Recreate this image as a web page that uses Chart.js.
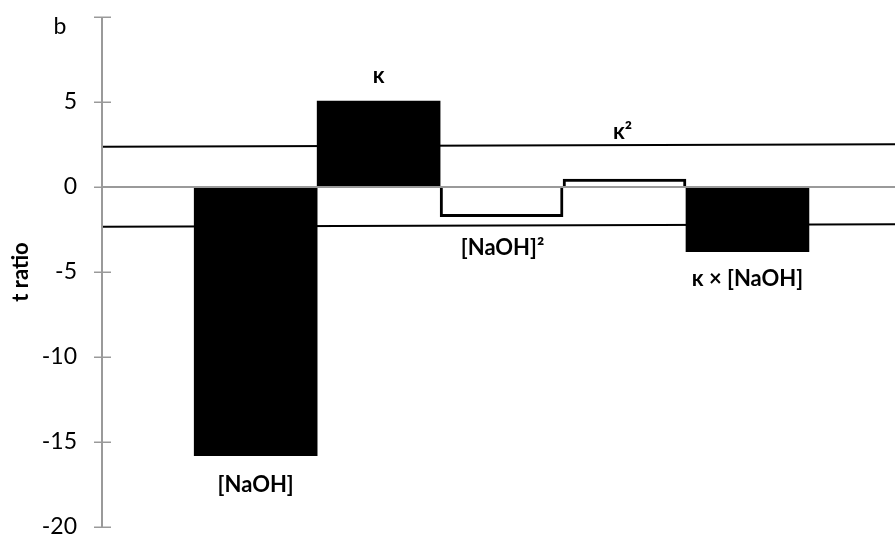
<!DOCTYPE html>
<html>
<head>
<meta charset="utf-8">
<script src="https://cdn.jsdelivr.net/npm/chart.js@4/dist/chart.umd.min.js"></script>
<style>
  html, body { margin: 0; padding: 0; background: #fff; }
  #wrap { width: 895px; height: 535px; position: relative; }
</style>
</head>
<body>
<div id="wrap"><canvas id="c"></canvas></div>
<script>
// Model terms and their t ratios
const terms = ['[NaOH]', 'κ', '[NaOH]²', 'κ²', 'κ × [NaOH]'];
const tRatios = [-15.8, 5.05, -1.75, 0.47, -3.8];
const hollowTerms = [false, false, true, true, false];

// Critical t values (left end, right end)
const upperCritical = [2.37, 2.51];
const lowerCritical = [-2.34, -2.19];

// Y axis ticks
const yTickValues = [10, 5, 0, -5, -10, -15, -20];
const yTickLabels = ['', '5', '0', '-5', '-10', '-15', '-20'];

const panelLabel = 'b';
const yTitle = 't ratio';

// Horizontal extent of the term axis (terms sit at 1..n)
const X_MIN = -0.25;
const X_MAX = 6.2;

// Label nudges per term: [dx, dy] from the bar's outer end
const labelNudges = [[0, 29], [0, -25], [1, 31], [-2, -47], [0, 27]];

const AXIS_GREY = '#9a9a9a';
const FONT = 'Lato';

const barData = tRatios.map((v, i) => ({ x: i + 1, y: v }));

const overlay = {
  id: 'overlay',
  afterDatasetsDraw(chart) {
    const { ctx, chartArea, scales } = chart;
    const y = scales.y;
    const x0 = chartArea.left;
    ctx.save();
    // zero line
    ctx.strokeStyle = AXIS_GREY;
    ctx.lineWidth = 2;
    const yz = y.getPixelForValue(0);
    ctx.beginPath();
    ctx.moveTo(x0, yz);
    ctx.lineTo(chartArea.right, yz);
    ctx.stroke();
    // vertical axis with crossing ticks
    ctx.lineWidth = 2;
    ctx.beginPath();
    ctx.moveTo(x0, y.getPixelForValue(yTickValues[0]));
    ctx.lineTo(x0, y.getPixelForValue(yTickValues[yTickValues.length - 1]));
    ctx.stroke();
    ctx.lineWidth = 1.5;
    yTickValues.forEach(v => {
      const py = Math.round(y.getPixelForValue(v)) + 0.25;
      ctx.beginPath();
      ctx.moveTo(x0 - 8, py);
      ctx.lineTo(x0 + 9, py);
      ctx.stroke();
    });
    // term labels
    const meta = chart.getDatasetMeta(0);
    ctx.fillStyle = '#000';
    ctx.font = 'bold 22px ' + FONT;
    ctx.textAlign = 'center';
    ctx.textBaseline = 'middle';
    meta.data.forEach((bar, i) => {
      const [dx, dy] = labelNudges[i];
      ctx.fillText(terms[i], bar.x + dx, bar.y + dy);
    });
    // panel letter
    ctx.font = '23px ' + FONT;
    ctx.fillText(panelLabel, 60, y.getPixelForValue(yTickValues[0]) + 10);
    ctx.restore();
  }
};

new Chart(document.getElementById('c'), {
  data: {
    datasets: [
      {
        type: 'bar',
        data: barData,
        backgroundColor: hollowTerms.map(h => h ? '#fff' : '#000'),
        borderColor: '#000',
        borderWidth: hollowTerms.map(h => h ? 3 : 0),
        borderSkipped: 'start',
        categoryPercentage: 1,
        barPercentage: 1,
        order: 2
      },
      {
        type: 'line',
        data: [{ x: X_MIN, y: upperCritical[0] }, { x: X_MAX, y: upperCritical[1] }],
        borderColor: '#000',
        borderWidth: 2,
        pointRadius: 0,
        order: 1
      },
      {
        type: 'line',
        data: [{ x: X_MIN, y: lowerCritical[0] }, { x: X_MAX, y: lowerCritical[1] }],
        borderColor: '#000',
        borderWidth: 2,
        pointRadius: 0,
        order: 1
      }
    ]
  },
  options: {
    responsive: true,
    maintainAspectRatio: false,
    animation: false,
    layout: { padding: { top: 17, bottom: 8, left: 0, right: 0 } },
    plugins: { legend: { display: false }, tooltip: { enabled: false } },
    scales: {
      x: {
        type: 'linear',
        min: X_MIN,
        max: X_MAX,
        offset: false,
        display: false,
        afterBuildTicks: s => { s.ticks = terms.map((_, i) => ({ value: i + 1 })); }
      },
      y: {
        min: yTickValues[yTickValues.length - 1],
        max: yTickValues[0],
        grid: { display: false },
        border: { display: false },
        afterBuildTicks: s => { s.ticks = yTickValues.map(v => ({ value: v })); },
        afterFit: s => { s.width = 102; s.paddingTop = 0; s.paddingBottom = 0; },
        ticks: {
          color: '#000',
          padding: 17,
          font: { family: FONT, size: 23 },
          callback: v => yTickLabels[yTickValues.indexOf(v)]
        },
        title: {
          display: true,
          text: yTitle,
          color: '#000',
          font: { family: FONT, size: 22, weight: 'bold', lineHeight: 1.2 },
          padding: { top: 8, bottom: 0 }
        }
      }
    }
  },
  plugins: [overlay]
});
</script>
</body>
</html>
